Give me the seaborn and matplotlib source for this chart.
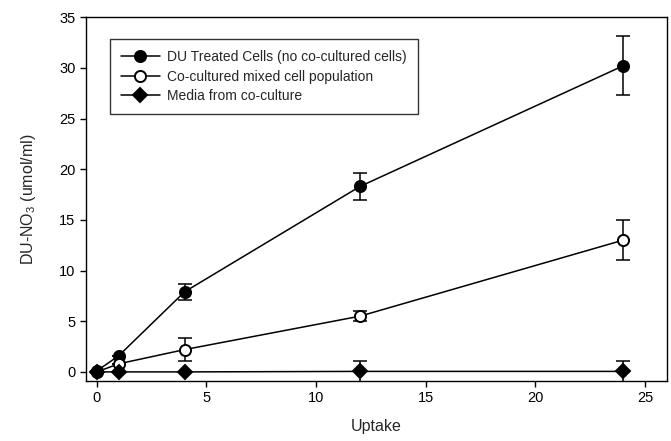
import numpy as np
import pandas as pd
import matplotlib
matplotlib.use('Agg')
import matplotlib.pyplot as plt
import seaborn as sns

# data
hours = [0, 1, 4, 12, 24]
du_treated = [0.1, 1.6, 7.9, 18.3, 30.2]
du_treated_err = [0, 0, 0.8, 1.3, 2.9]
cocultured = [0.0, 0.8, 2.2, 5.5, 13.0]
cocultured_err = [0, 0, 1.1, 0.5, 1.95]
media = [0.0, 0.0, 0.0, 0.05, 0.05]
media_err = [0, 0, 0, 1.0, 1.0]

labels = ['DU Treated Cells (no co-cultured cells)',
          'Co-cultured mixed cell population',
          'Media from co-culture']

sns.set_style('ticks')
plt.rcParams['font.family'] = ['Liberation Sans', 'DejaVu Sans']
plt.rcParams['mathtext.fontset'] = 'custom'
plt.rcParams['mathtext.rm'] = 'Liberation Sans'
plt.rcParams['mathtext.it'] = 'Liberation Sans:italic'

fig = plt.figure(figsize=(6.71, 4.41), dpi=100)
ax = fig.add_axes([0.128, 0.136, 0.866, 0.825])

series = [
    (du_treated, du_treated_err, 'o', 'black'),
    (cocultured, cocultured_err, 'o', 'white'),
    (media, media_err, 'D', 'black'),
]

for (vals, errs, mk, face), lab in zip(series, labels):
    df = pd.DataFrame({'x': hours, 'y': vals})
    ms = 8 if mk == 'o' else 7
    sns.lineplot(data=df, x='x', y='y', ax=ax, color='black', lw=1.1,
                 marker=mk, markersize=ms, markerfacecolor=face,
                 markeredgecolor='black', markeredgewidth=1.4, label=lab,
                 zorder=3)
    ax.errorbar(hours, vals, yerr=errs, fmt='none', ecolor='black',
                elinewidth=1.1, capsize=5, capthick=1.1, zorder=2)

ax.set_xlim(-0.5, 26)
ax.set_ylim(-0.9, 35)
ax.set_xticks([0, 5, 10, 15, 20, 25])
ax.set_yticks(np.arange(0, 36, 5))
ax.tick_params(direction='out', length=4, width=1, labelsize=10.5,
               colors='black')
for sp in ax.spines.values():
    sp.set_linewidth(1)
    sp.set_color('black')

ax.set_xlabel('Uptake', fontsize=11.5, labelpad=10)
ax.set_ylabel('DU-NO$_3$ (umol/ml)', fontsize=11.5, labelpad=15)

leg = ax.legend(loc='upper left', bbox_to_anchor=(0.041, 0.94),
                fontsize=10, frameon=True, fancybox=False,
                edgecolor='black', handlelength=2.8, handletextpad=0.55,
                labelspacing=0.4, borderpad=0.8, borderaxespad=0)
leg.get_frame().set_linewidth(1)

plt.savefig('out.png', dpi=100)
